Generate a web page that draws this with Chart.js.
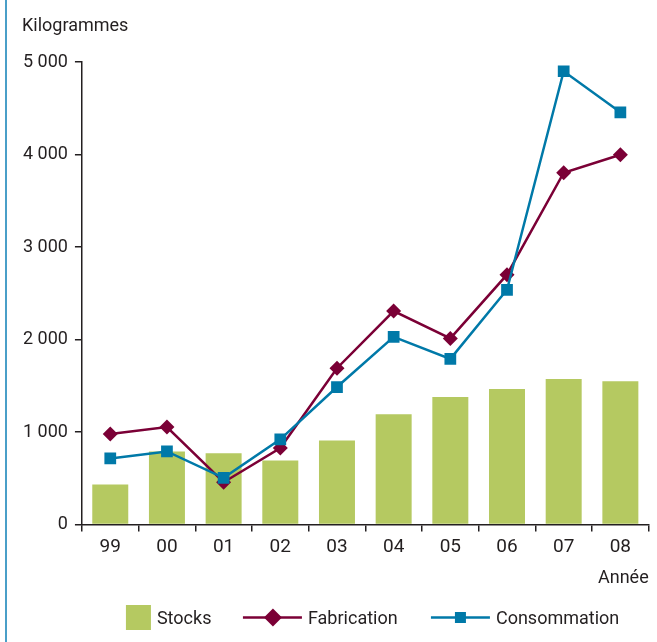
<!DOCTYPE html>
<html>
<head>
<meta charset="utf-8">
<script src="https://cdn.jsdelivr.net/npm/chart.js@4.4.1/dist/chart.umd.min.js"></script>
<style>
  html, body { margin: 0; padding: 0; background: #fff; }
  #wrap { position: relative; width: 657px; height: 642px; }
  #edge { position: absolute; left: 5px; top: 0; width: 2px; height: 642px; background: #4a9fc8; }
  canvas { position: absolute; left: 0; top: 0; }
</style>
</head>
<body>
<div id="wrap">
  <canvas id="c" width="657" height="642"></canvas>
  <div id="edge"></div>
</div>
<script>
const categories = ['99', '00', '01', '02', '03', '04', '05', '06', '07', '08'];
const stocks = [433, 790, 770, 693, 910, 1192, 1379, 1466, 1574, 1549];
const fabrication = [978, 1054, 458, 827, 1690, 2308, 2012, 2701, 3803, 3998];
const consommation = [715, 791, 506, 921, 1487, 2029, 1791, 2538, 4900, 4456];
const yTicks = [0, 1000, 2000, 3000, 4000, 5000];
const yUnit = 'Kilogrammes';
const xTitle = 'Année';

const FONT = 'Roboto, sans-serif';
const TXT = '#231f20';
const GREEN = '#b5c961';
const MAROON = '#7b0036';
const BLUE = '#0079a8';

function fmt(v) {
  return String(v).replace(/\B(?=(\d{3})+(?!\d))/g, ' ');
}

const extras = {
  id: 'extras',
  afterDraw(chart) {
    const ctx = chart.ctx;
    const ca = chart.chartArea;
    ctx.save();
    ctx.fillStyle = TXT;
    ctx.font = '18px ' + FONT;
    ctx.textBaseline = 'middle';
    ctx.textAlign = 'left';
    ctx.fillText(yUnit, 22, 26);

    // legend
    const ly = 617.5;
    const items = chart.data.datasets.map(d => d.label);
    // Stocks
    let x = ca.left + 44;
    ctx.fillStyle = GREEN;
    ctx.fillRect(x, ly - 12.5, 25, 25);
    ctx.fillStyle = TXT;
    ctx.fillText(items[0], x + 31, ly + 1.5);
    // Fabrication
    x = ca.left + 161;
    ctx.strokeStyle = MAROON;
    ctx.lineWidth = 2.5;
    ctx.beginPath(); ctx.moveTo(x, ly); ctx.lineTo(x + 59, ly); ctx.stroke();
    ctx.fillStyle = MAROON;
    ctx.beginPath();
    ctx.moveTo(x + 30, ly - 9); ctx.lineTo(x + 39, ly); ctx.lineTo(x + 30, ly + 9); ctx.lineTo(x + 21, ly);
    ctx.closePath(); ctx.fill();
    ctx.fillStyle = TXT;
    ctx.fillText(items[1], x + 65, ly + 1.5);
    // Consommation
    x = ca.left + 349;
    ctx.strokeStyle = BLUE;
    ctx.beginPath(); ctx.moveTo(x, ly); ctx.lineTo(x + 59, ly); ctx.stroke();
    ctx.fillStyle = BLUE;
    ctx.fillRect(x + 24, ly - 5.5, 11, 11);
    ctx.fillStyle = TXT;
    ctx.fillText(items[2], x + 65, ly + 1.5);
    ctx.restore();
  }
};

new Chart(document.getElementById('c'), {
  type: 'bar',
  data: {
    labels: categories,
    datasets: [
      {
        type: 'bar', label: 'Stocks', data: stocks, backgroundColor: GREEN,
        categoryPercentage: 1, barPercentage: 0.635, order: 2
      },
      {
        type: 'line', label: 'Fabrication', data: fabrication, borderColor: MAROON,
        backgroundColor: MAROON, borderWidth: 2.5, pointStyle: 'rectRot', pointRadius: 7.5,
        pointBorderWidth: 0, pointBackgroundColor: MAROON, tension: 0, order: 1
      },
      {
        type: 'line', label: 'Consommation', data: consommation, borderColor: BLUE,
        backgroundColor: BLUE, borderWidth: 2.5, pointStyle: 'rect', pointRadius: 8.3,
        pointBorderWidth: 0, pointBackgroundColor: BLUE, tension: 0, order: 0
      }
    ]
  },
  options: {
    responsive: false,
    animation: false,
    layout: { padding: { left: 16, right: 4, top: 62, bottom: 53 } },
    plugins: { legend: { display: false }, tooltip: { enabled: false } },
    scales: {
      x: {
        offset: true,
        grid: { offset: true, drawOnChartArea: false, drawTicks: true, tickLength: 7, color: TXT, lineWidth: 1.5 },
        border: { display: true, color: TXT, width: 1.5 },
        ticks: { color: TXT, font: { family: FONT, size: 19 }, padding: 4, maxRotation: 0 },
        title: { display: true, text: xTitle, align: 'end', color: TXT, font: { family: FONT, size: 18 }, padding: { top: 5, bottom: 0 } }
      },
      y: {
        min: 0, max: 5000,
        afterBuildTicks(axis) { axis.ticks = yTicks.map(v => ({ value: v })); },
        grid: { drawOnChartArea: false, drawTicks: true, tickLength: 7, color: TXT, lineWidth: 1.5 },
        border: { display: true, color: TXT, width: 1.5 },
        ticks: { color: TXT, font: { family: FONT, size: 18 }, padding: 7, callback: v => fmt(v) }
      }
    }
  },
  plugins: [extras]
});
</script>
</body>
</html>
